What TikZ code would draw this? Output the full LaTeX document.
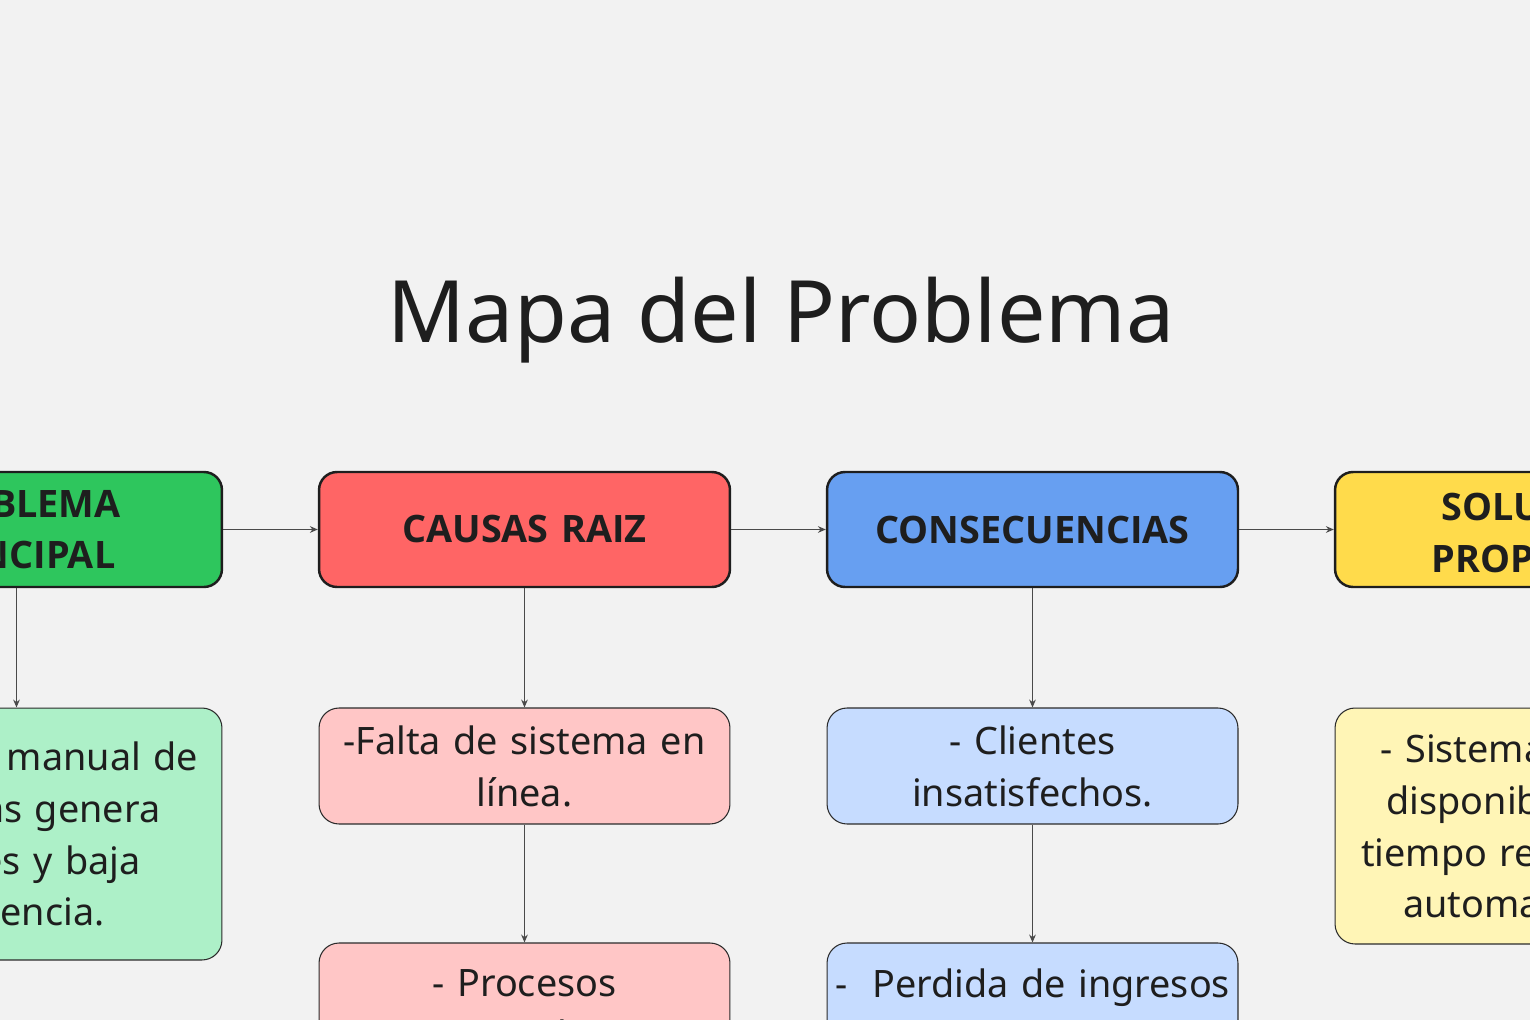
\documentclass[tikz,border=0pt]{standalone}
\usepackage{fontspec}
\setmainfont{Noto Sans}
\newfontfamily\headfont{Open Sans}
\usepackage{xcolor}
\usepackage{tikz}
\usetikzlibrary{positioning,arrows.meta}

\definecolor{bgcol}{HTML}{F2F2F2}
\definecolor{inkcol}{HTML}{1E1E1E}
\definecolor{edgecol}{HTML}{2B2B2B}
\definecolor{linkcol}{HTML}{4A4A4A}
\definecolor{verde}{HTML}{2EC65D}
\definecolor{verdeclaro}{HTML}{ADF0C8}
\definecolor{rojo}{HTML}{FF6565}
\definecolor{rojoclaro}{HTML}{FFC6C6}
\definecolor{azul}{HTML}{679FF1}
\definecolor{azulclaro}{HTML}{C6DCFF}
\definecolor{amarillo}{HTML}{FFDB4B}
\definecolor{amarilloclaro}{HTML}{FFF5B6}

\begin{document}
\begin{tikzpicture}[x=0.02cm, y=-0.02cm,
    head/.style={draw=inkcol, line width=1.4pt, rounded corners=0.36cm,
      minimum width=8.22cm, minimum height=2.3cm, inner xsep=0.05cm,
      text width=8.1cm, align=center, text=inkcol,
      font=\headfont\bfseries\fontsize{21.5}{29.5}\selectfont},
    item/.style={draw=edgecol, line width=0.6pt, rounded corners=0.4cm,
      minimum width=8.22cm, inner xsep=0.05cm,
      text width=8.1cm, align=center, text=inkcol,
      font=\fontsize{21.5}{29.5}\selectfont},
    link/.style={draw=linkcol, line width=0.7pt,
      -{Stealth[length=4.5pt,width=3.8pt]}}]

    % fondo
    \useasboundingbox (0,0) rectangle (1530,1020);
    \fill[bgcol] (0,0) rectangle (1530,1020);
    \clip (0,0) rectangle (1530,1020);

    \node[anchor=base, text=inkcol, font=\fontsize{49}{58}\selectfont] (titulo) at (781,342) {Mapa del Problema};

    % fila de titulos
    \node[head, fill=verde] (problema) at (16.5,529.5) {PROBLEMA\\PRINCIPAL};
    \node[head, fill=rojo] (causas) at (524.5,529.5) {CAUSAS RAIZ};
    \node[head, fill=azul] (consec) at (1032.5,529.5) {CONSECUENCIAS};
    \node[head, fill=amarillo] (solucion) at (1540.5,529.5) {SOLUCIÓN\\PROPUESTA};

    % detalles
    \node[item, fill=verdeclaro, minimum height=5.04cm] (problema1) at (16.5,834)
        {-Registro manual de\\reservas genera\\errores y baja\\eficiencia.};
    \node[item, fill=rojoclaro, minimum height=2.32cm] (causas1) at (524.5,766)
        {-Falta de sistema en\\línea.};
    \node[item, fill=rojoclaro, minimum height=2.64cm] (causas2) at (524.5,1009)
        {- Procesos\\manuales.};
    \node[item, fill=azulclaro, minimum height=2.32cm] (consec1) at (1032.5,766)
        {- Clientes\\insatisfechos.};
    \node[item, fill=azulclaro, minimum height=2.64cm] (consec2) at (1032.5,1009)
        {-\ \ Perdida de ingresos\\de la clínica.};
    \node[item, fill=amarilloclaro, minimum height=4.72cm] (solucion1) at (1540.5,826)
        {- Sistema en línea\\disponible 24/7 y\\tiempo real y pagos\\automatizados.};

    \draw[link] (problema) -- (causas);
    \draw[link] (causas) -- (consec);
    \draw[link] (consec) -- (solucion);
    \draw[link] (problema) -- (problema1);
    \draw[link] (causas) -- (causas1);
    \draw[link] (causas1) -- (causas2);
    \draw[link] (consec) -- (consec1);
    \draw[link] (consec1) -- (consec2);
\end{tikzpicture}
\end{document}
